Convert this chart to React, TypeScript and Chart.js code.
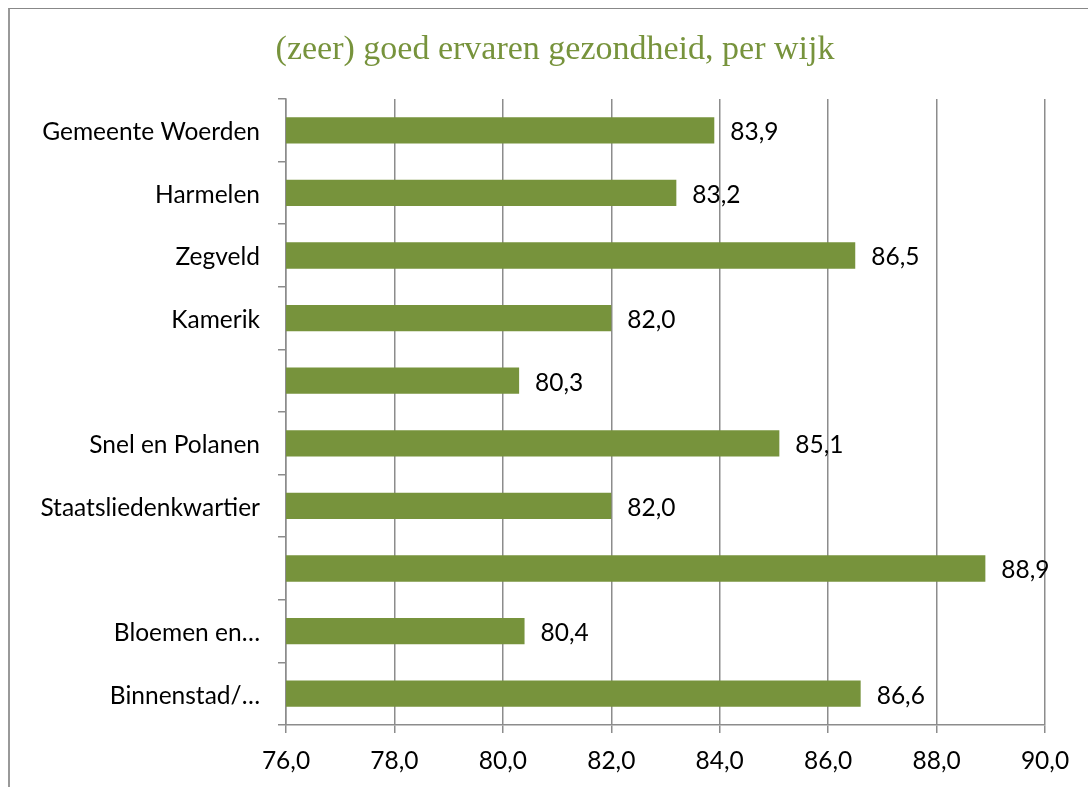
import React, { useEffect, useRef } from 'react';
import { Chart, registerables } from 'chart.js';

Chart.register(...registerables);

const titleText = '(zeer) goed ervaren gezondheid, per wijk';
const categories = [
  'Gemeente Woerden',
  'Harmelen',
  'Zegveld',
  'Kamerik',
  '',
  'Snel en Polanen',
  'Staatsliedenkwartier',
  '',
  'Bloemen en…',
  'Binnenstad/…',
];
const values = [83.9, 83.2, 86.5, 82.0, 80.3, 85.1, 82.0, 88.9, 80.4, 86.6];
const xMin = 76;
const xMax = 90;
const xStep = 2;

const GREEN = '#77933C';
const GRID = '#8c8c8c';
const LABEL_FONT = 'Lato';
const LABEL_SIZE = 24.5;

const fmt = (v: number) => v.toFixed(1).replace('.', ',');

const titlePlugin = {
  id: 'customTitle',
  afterDraw(chart: any) {
    const ctx = chart.ctx;
    ctx.save();
    ctx.font = `34px "Liberation Serif"`;
    ctx.fillStyle = GREEN;
    ctx.textAlign = 'center';
    ctx.textBaseline = 'middle';
    ctx.fillText(titleText, 545, 41);
    ctx.restore();
  },
};

const valueLabels = {
  id: 'valueLabels',
  afterDatasetsDraw(chart: any) {
    const ctx = chart.ctx;
    const meta = chart.getDatasetMeta(0);
    ctx.save();
    ctx.font = `${LABEL_SIZE}px ${LABEL_FONT}`;
    ctx.fillStyle = '#000';
    ctx.textAlign = 'left';
    ctx.textBaseline = 'middle';
    meta.data.forEach((bar: any, i: number) => {
      ctx.fillText(fmt(values[i]), bar.x + 16, bar.y + 2);
    });
    ctx.restore();
  },
};

export default function App() {
  const ref = useRef<HTMLCanvasElement>(null);
  useEffect(() => {
    if (!ref.current) return;
    const chart = new Chart(ref.current, {
      type: 'bar',
      data: {
        labels: categories,
        datasets: [
          {
            data: values,
            backgroundColor: GREEN,
            borderWidth: 0,
            barPercentage: 0.42,
            categoryPercentage: 1,
          },
        ],
      },
      options: {
        indexAxis: 'y',
        responsive: false,
        animation: false,
        layout: { padding: { left: 0, right: 43, top: 90, bottom: 0 } },
        plugins: {
          legend: { display: false },
          tooltip: { enabled: false },
          title: { display: false },
        },
        scales: {
          x: {
            min: xMin,
            max: xMax,
            ticks: {
              stepSize: xStep,
              color: '#000',
              font: { family: LABEL_FONT, size: LABEL_SIZE },
              padding: 13,
              callback: (v: any) => fmt(Number(v)),
            },
            grid: {
              color: GRID,
              lineWidth: 1.5,
              drawOnChartArea: true,
              drawTicks: true,
              tickLength: 8,
            },
            border: { color: GRID, width: 1.5 },
            afterFit: (s: any) => {
              s.height = 62;
            },
          },
          y: {
            ticks: {
              color: '#000',
              font: { family: LABEL_FONT, size: LABEL_SIZE },
              padding: 18,
              labelOffset: 2,
              autoSkip: false,
            },
            grid: {
              color: GRID,
              lineWidth: 1.5,
              drawOnChartArea: false,
              drawTicks: true,
              tickLength: 8,
              offset: true,
            },
            border: { color: GRID, width: 1.5 },
            afterFit: (s: any) => {
              s.width = 276;
            },
          },
        },
      },
      plugins: [valueLabels, titlePlugin],
    } as any);
    return () => chart.destroy();
  }, []);

  return (
    <div
      style={{
        position: 'fixed',
        left: 8,
        top: 8,
        width: 1080,
        height: 779,
        boxSizing: 'border-box',
        borderTop: '1px solid #888',
        borderLeft: '2px solid #999',
        background: '#fff',
      }}
    >
      <canvas ref={ref} width={1078} height={778} style={{ display: 'block' }} />
    </div>
  );
}
